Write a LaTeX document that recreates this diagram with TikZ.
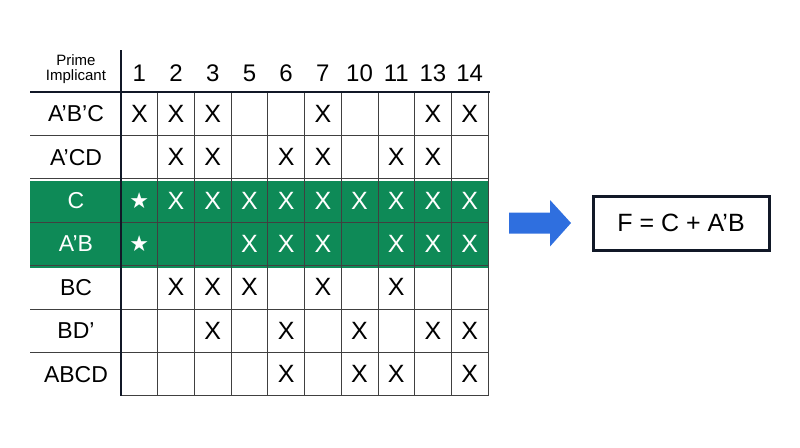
\documentclass[tikz,border=0pt]{standalone}
\usepackage{fontspec}
\setmainfont{Liberation Sans}
\newfontfamily\sym{DejaVu Sans}
\definecolor{gr}{HTML}{0E8A57}
\definecolor{nv}{HTML}{111827}
\definecolor{bl}{HTML}{2F6FDF}
\begin{document}
\begin{tikzpicture}[x=1pt,y=-1pt,
  cell/.style={font=\fontsize{25}{25}\selectfont},
  lab/.style={font=\fontsize{23}{23}\selectfont},
  thin/.style={draw=black!75,line width=0.8pt}]
\useasboundingbox (0,0) rectangle (800,447);
\def\cw{36.7}\def\rh{43.4}
\fill[gr] (30,180.8) rectangle (488,267.6);
% thin grid
\foreach \i in {1,...,6}{\draw[thin] (30,{92+\i*\rh}) -- (488,{92+\i*\rh});}
\draw[thin] (121,395.8) -- (488,395.8);
\foreach \j in {1,...,10}{\draw[thin] ({121+\j*\cw},92) -- ({121+\j*\cw},395.8);}
\draw[line width=2.2pt,nv] (30,92) -- (490,92);
\draw[line width=2.2pt,nv] (121,50) -- (121,396);
% header
\node[align=center,font=\fontsize{15}{15}\selectfont] (ph) at (76,69) {Prime\\Implicant};
\foreach \n [count=\j] in {1,2,3,5,6,7,10,11,13,14}{
  \node[font=\fontsize{24}{24}\selectfont] (h\j) at ({121+(\j-0.5)*\cw},73) {\n};}
% row labels
\foreach \t [count=\i] in {A’B’C,A’CD,C,A’B,BC,BD’,ABCD}{
  \pgfmathsetmacro{\yy}{92+(\i-0.5)*\rh}
  \ifnum\i=3 \def\cc{white}\else\ifnum\i=4 \def\cc{white}\else\def\cc{black}\fi\fi
  \node[lab,text=\cc] (r\i) at (76,\yy) {\t};}
% marks
\def\mk#1#2#3{\node[cell,text=#3] (m#1#2) at ({121+(#2-0.5)*\cw},{92+(#1-0.5)*\rh}) {X};}
\def\st#1#2{\node[text=white,font=\sym\fontsize{22}{22}\selectfont] (s#1#2) at ({121+(#2-0.5)*\cw},{92+(#1-0.5)*\rh}) {★};}
\foreach \j in {1,2,3,6,9,10}{\mk{1}{\j}{black}}
\foreach \j in {2,3,5,6,8,9}{\mk{2}{\j}{black}}
\st{3}{1}\foreach \j in {2,...,10}{\mk{3}{\j}{white}}
\st{4}{1}\foreach \j in {4,5,6,8,9,10}{\mk{4}{\j}{white}}
\foreach \j in {2,3,4,6,8}{\mk{5}{\j}{black}}
\foreach \j in {3,5,7,9,10}{\mk{6}{\j}{black}}
\foreach \j in {5,7,8,10}{\mk{7}{\j}{black}}
% arrow
\fill[bl] (509,212.5) -- (550,212.5) -- (550,200) -- (571,223) -- (550,246.5) -- (550,233.5) -- (509,233.5) -- cycle;
\node[draw=nv,line width=3pt,minimum width=176pt,minimum height=54pt,
  font=\fontsize{25}{25}\selectfont] (f) at (681,223) {F = C + A’B};
\end{tikzpicture}
\end{document}
